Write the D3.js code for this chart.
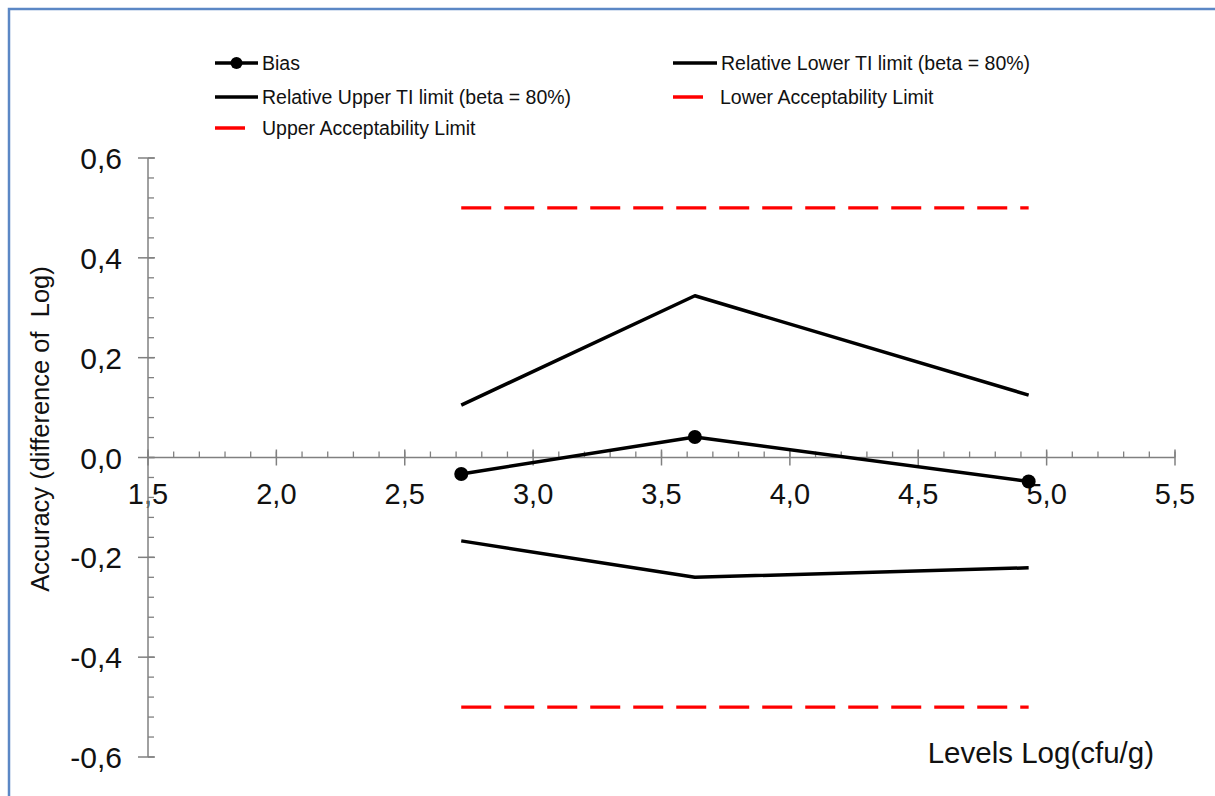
<!DOCTYPE html>
<html lang="en">
<head>
<meta charset="UTF-8">
<title>Accuracy profile</title>
<script src="https://d3js.org/d3.v7.min.js"></script>
<style>
    body { margin: 0; background: #fff; }
    text { font-family: "Liberation Sans", Arial, sans-serif; fill: #111; }
</style>
</head>
<body>
<div id="chart"></div>
<script>
// Data
const levels = [2.72, 3.63, 4.93];
const bias = [-0.033, 0.041, -0.048];
const upperTI = [0.105, 0.324, 0.125];
const lowerTI = [-0.167, -0.24, -0.221];
const upperAcc = [0.5, 0.5, 0.5];
const lowerAcc = [-0.5, -0.5, -0.5];

const xTicks = [1.5, 2.0, 2.5, 3.0, 3.5, 4.0, 4.5, 5.0, 5.5];
const yTicks = [-0.6, -0.4, -0.2, 0.0, 0.2, 0.4, 0.6];

const W = 1215, H = 796;
const svg = d3.select("#chart").append("svg")
    .attr("width", W).attr("height", H);

// blue frame
svg.append("path")
    .attr("d", "M9," + H + " L9,9 L" + W + ",9")
    .attr("fill", "none").attr("stroke", "#5b87c5").attr("stroke-width", 2.5);

const x = d3.scaleLinear().domain([1.5, 5.5]).range([148, 1175]);
const y = d3.scaleLinear().domain([-0.6, 0.6]).range([757, 158]);

// comma decimals, plain hyphen for minus
const fmt = d => d.toFixed(1).replace(".", ",");
const axisCol = "#808080";

// x axis at y = 0
const gx = svg.append("g");
gx.append("line").attr("x1", x(1.5)).attr("x2", x(5.5))
    .attr("y1", y(0)).attr("y2", y(0)).attr("stroke", axisCol).attr("stroke-width", 1.5);
gx.selectAll(".minor").data(d3.range(15, 56).map(d => d / 10)).enter().append("line")
    .attr("x1", d => x(d)).attr("x2", d => x(d))
    .attr("y1", y(0) - 6).attr("y2", y(0))
    .attr("stroke", axisCol).attr("stroke-width", 1.3);
gx.selectAll(".major").data(xTicks).enter().append("line")
    .attr("x1", d => x(d)).attr("x2", d => x(d))
    .attr("y1", y(0) - 8).attr("y2", y(0) + 8)
    .attr("stroke", axisCol).attr("stroke-width", 1.5);
gx.selectAll(".lab").data(xTicks).enter().append("text")
    .attr("x", d => x(d)).attr("y", 504)
    .attr("text-anchor", "middle").attr("font-size", 29)
    .text(fmt);

// y axis
const gy = svg.append("g");
gy.append("line").attr("x1", 148).attr("x2", 148)
    .attr("y1", y(-0.6)).attr("y2", y(0.6)).attr("stroke", axisCol).attr("stroke-width", 1.5);
gy.selectAll(".minor").data(d3.range(-15, 16).map(d => d * 0.04)).enter().append("line")
    .attr("x1", 148).attr("x2", 154)
    .attr("y1", d => y(d)).attr("y2", d => y(d))
    .attr("stroke", axisCol).attr("stroke-width", 1.3);
gy.selectAll(".major").data(yTicks).enter().append("line")
    .attr("x1", 138).attr("x2", 155)
    .attr("y1", d => y(d)).attr("y2", d => y(d))
    .attr("stroke", axisCol).attr("stroke-width", 1.5);
gy.selectAll(".lab").data(yTicks).enter().append("text")
    .attr("x", 122).attr("y", d => y(d) + 11)
    .attr("text-anchor", "end").attr("font-size", 30)
    .text(fmt);

// axis titles
svg.append("text")
    .attr("transform", "translate(49,429) rotate(-90)")
    .attr("text-anchor", "middle").attr("font-size", 25.5)
    .attr("xml:space", "preserve")
    .text("Accuracy (difference of  Log)");
svg.append("text")
    .attr("x", 1154).attr("y", 763)
    .attr("text-anchor", "end").attr("font-size", 29.5)
    .text("Levels Log(cfu/g)");

// series
const line = vals => d3.line().x((d, i) => x(levels[i])).y(d => y(d))(vals);

[upperAcc, lowerAcc].forEach(vals => {
    svg.append("path").attr("d", line(vals))
        .attr("fill", "none").attr("stroke", "#ff0000").attr("stroke-width", 3.3)
        .attr("stroke-dasharray", "30,13");
});
[upperTI, lowerTI, bias].forEach(vals => {
    svg.append("path").attr("d", line(vals))
        .attr("fill", "none").attr("stroke", "#000").attr("stroke-width", 3.5)
        .attr("stroke-linejoin", "round");
});
svg.selectAll(".pt").data(bias).enter().append("circle")
    .attr("cx", (d, i) => x(levels[i])).attr("cy", d => y(d))
    .attr("r", 7).attr("fill", "#000");

// legend
const legend = [
    { name: "Bias", col: "#000", x: 215, y: 63, len: 43, dot: true },
    { name: "Relative Lower TI limit (beta = 80%)", col: "#000", x: 673, y: 63, len: 44 },
    { name: "Relative Upper TI limit (beta = 80%)", col: "#000", x: 215, y: 97, len: 43 },
    { name: "Lower Acceptability Limit", col: "#ff0000", x: 673, y: 97, len: 30 },
    { name: "Upper Acceptability Limit", col: "#ff0000", x: 215, y: 128, len: 30 }
];
const lg = svg.append("g");
legend.forEach(d => {
    lg.append("line").attr("x1", d.x).attr("x2", d.x + d.len)
        .attr("y1", d.y).attr("y2", d.y)
        .attr("stroke", d.col).attr("stroke-width", 3.5);
    if (d.dot) lg.append("circle").attr("cx", d.x + d.len / 2).attr("cy", d.y).attr("r", 6).attr("fill", "#000");
    lg.append("text").attr("x", d.x + (d.len > 40 ? d.len + 4 : 47)).attr("y", d.y + 7)
        .attr("font-size", 19.5).text(d.name);
});
</script>
</body>
</html>
